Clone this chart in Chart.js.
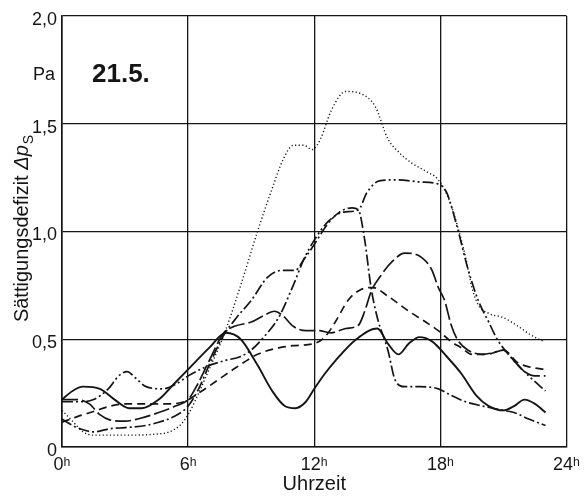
<!DOCTYPE html>
<html><head><meta charset="utf-8">
<script src="https://cdn.jsdelivr.net/npm/chart.js@4.4.1/dist/chart.umd.min.js"></script>
<style>html,body{margin:0;padding:0;background:#fff}#wrap{width:587px;height:497px;position:relative}</style>
</head><body><div id="wrap"><canvas id="c" width="587" height="497"></canvas></div>
<script>
// hour ticks and value ticks
const hourTicks = [0, 6, 12, 18, 24];
const valueTicks = [0, 0.5, 1.0, 1.5, 2.0];

// series as [hour, Pa]
const solidLine = [[0,0.22],[0.5,0.26],[1,0.28],[1.8,0.27],[2.5,0.22],[3.2,0.18],[3.8,0.18],[4.6,0.22],[5.3,0.29],[6,0.36],[7,0.46],[7.8,0.53],[8.5,0.5],[9.3,0.38],[10,0.26],[10.6,0.19],[11.1,0.18],[11.6,0.21],[12,0.27],[12.5,0.34],[13,0.4],[14,0.5],[15,0.55],[15.5,0.48],[16,0.43],[16.5,0.48],[17,0.51],[17.6,0.49],[18.3,0.42],[19,0.34],[19.7,0.24],[20.3,0.19],[21,0.17],[21.5,0.19],[22,0.22],[22.5,0.2],[23,0.16]];
const dottedLine = [[0,0.17],[0.5,0.12],[1,0.07],[1.5,0.055],[3,0.055],[4.5,0.06],[5.1,0.07],[5.6,0.1],[6,0.15],[6.5,0.25],[7,0.36],[7.7,0.52],[8.5,0.75],[9.3,1.0],[10,1.2],[10.5,1.33],[11,1.4],[11.5,1.4],[11.9,1.38],[12.3,1.43],[12.8,1.56],[13.5,1.65],[14.2,1.64],[14.9,1.58],[15.5,1.43],[16,1.37],[16.6,1.32],[17.3,1.28],[17.9,1.24],[18.4,1.15],[18.8,1.03],[19.2,0.88],[19.5,0.74],[19.8,0.66],[20.3,0.62],[21,0.6],[21.7,0.56],[22.3,0.52],[22.9,0.49]];
const dashDotDotLine = [[0,0.21],[0.8,0.21],[1.5,0.22],[2.2,0.27],[2.7,0.33],[3.1,0.35],[3.5,0.32],[4,0.28],[4.8,0.27],[5.4,0.29],[6,0.33],[6.8,0.37],[7.7,0.4],[8.5,0.42],[9,0.45],[9.6,0.51],[10.3,0.6],[11,0.75],[11.5,0.87],[12,0.96],[12.7,1.05],[13.4,1.09],[14.1,1.1],[14.5,1.18],[15.1,1.235],[16,1.24],[17,1.23],[17.9,1.22],[18.3,1.18],[18.8,1.02],[19.3,0.83],[19.8,0.68],[20.3,0.58],[20.7,0.5],[21.5,0.4],[22.2,0.33],[23,0.26]];
const dashDotLine = [[0,0.13],[0.5,0.1],[1,0.08],[1.5,0.07],[2.3,0.085],[3,0.09],[4,0.1],[4.6,0.115],[5.3,0.14],[6,0.19],[6.5,0.27],[7,0.38],[7.7,0.52],[8.3,0.6],[9,0.68],[9.8,0.79],[10.5,0.82],[11.1,0.82],[11.5,0.87],[12,0.94],[12.6,1.03],[13.2,1.09],[13.8,1.11],[14.1,1.1],[14.4,0.96],[14.7,0.74],[15,0.6],[15.5,0.45],[15.85,0.31],[16.3,0.28],[17,0.28],[17.9,0.27],[18.5,0.24],[19.2,0.21],[20,0.19],[20.5,0.18],[21,0.17],[21.5,0.16],[22.2,0.13],[23,0.1]];
const longDashLine = [[0,0.22],[0.7,0.22],[1.3,0.2],[1.8,0.15],[2.3,0.125],[3,0.12],[3.6,0.13],[4.6,0.16],[5.4,0.19],[6,0.22],[6.5,0.3],[7,0.4],[7.7,0.53],[8.2,0.56],[9,0.58],[9.6,0.61],[10.1,0.63],[10.5,0.61],[11,0.56],[11.6,0.54],[12.2,0.54],[12.8,0.53],[13.5,0.55],[14.1,0.565],[14.4,0.63],[14.7,0.72],[15.2,0.8],[15.7,0.86],[16.3,0.9],[17.1,0.88],[17.6,0.82],[17.9,0.74],[18.2,0.68],[18.5,0.57],[18.8,0.5],[19.3,0.45],[20,0.43],[20.6,0.44],[21,0.45],[21.5,0.4],[22,0.35],[22.5,0.33],[23,0.33]];
const mediumDashLine = [[0,0.115],[0.7,0.14],[1.5,0.165],[2.3,0.19],[3,0.2],[4,0.2],[5,0.2],[5.8,0.21],[6.5,0.25],[7.4,0.31],[8.3,0.37],[9.3,0.43],[10.3,0.46],[11,0.47],[12,0.48],[12.5,0.51],[13,0.58],[13.6,0.68],[14.2,0.73],[14.8,0.74],[15.5,0.7],[16.5,0.63],[17.3,0.58],[17.9,0.54],[18.5,0.49],[19,0.46],[19.5,0.43],[20.2,0.43],[21,0.45],[21.7,0.39],[22.3,0.37],[23,0.36]];

const INK = '#151515';
function ds(pts, dash, w) {
  return { data: pts.map(([x, y]) => ({x, y})), borderColor: INK, borderWidth: w || 1.7,
    borderDash: dash, pointRadius: 0, fill: false, cubicInterpolationMode: 'monotone',
    borderCapStyle: 'butt' };
}

const textPlugin = {
  id: 'texts',
  afterDraw(chart) {
    const ctx = chart.ctx;
    ctx.save();
    ctx.fillStyle = INK;
    ctx.textBaseline = 'alphabetic';
    ctx.font = '18px "Liberation Sans", Arial, sans-serif';
    ctx.textAlign = 'left';
    ctx.fillText('Pa', 33, 80);
    ctx.font = 'bold 26px "Liberation Sans", Arial, sans-serif';
    ctx.fillText('21.5.', 92, 82);
    // y-axis title, rotated
    ctx.translate(28, 229);
    ctx.rotate(-Math.PI / 2);
    const f1 = '20px "Liberation Sans", Arial, sans-serif';
    const f2 = 'italic 20px "Liberation Sans", Arial, sans-serif';
    const f3 = '14px "Liberation Sans", Arial, sans-serif';
    const t1 = 'Sättigungsdefizit ', t2 = 'Δp', t3 = 'S';
    ctx.font = f1; const w1 = ctx.measureText(t1).width;
    ctx.font = f2; const w2 = ctx.measureText(t2).width;
    ctx.font = f3; const w3 = ctx.measureText(t3).width;
    let x = -(w1 + w2 + w3) / 2;
    ctx.font = f1; ctx.fillText(t1, x, 0); x += w1;
    ctx.font = f2; ctx.fillText(t2, x, 0); x += w2;
    ctx.font = f3; ctx.fillText(t3, x + 1, 5);
    ctx.restore();
  }
};

new Chart(document.getElementById('c'), {
  type: 'line',
  data: { datasets: [
    ds(dottedLine, [1.2, 2.4], 1.4),
    ds(mediumDashLine, [8, 5]),
    ds(longDashLine, [16, 4]),
    ds(dashDotLine, [11, 3, 2, 3]),
    ds(dashDotDotLine, [11, 3, 2, 3, 2, 3]),
    ds(solidLine, [], 1.9)
  ]},
  options: {
    responsive: false, animation: false, events: [],
    layout: { padding: { top: 16, right: 18, left: 0, bottom: 0 } },
    plugins: { legend: { display: false }, tooltip: { enabled: false } },
    scales: {
      x: {
        type: 'linear', min: 0, max: 24,
        afterBuildTicks: s => { s.ticks = hourTicks.map(v => ({ value: v })); },
        afterFit: s => { s.height = 50; },
        ticks: { callback: v => v + 'ʰ', color: INK, padding: 7, maxRotation: 0, autoSkip: false,
          font: { family: '"Liberation Sans", Arial, sans-serif', size: 18 } },
        grid: { color: INK, lineWidth: 1.3, drawTicks: false },
        border: { color: INK, width: 1.6 },
        title: { display: true, text: 'Uhrzeit', color: INK, padding: { top: 0, bottom: 1 },
          font: { family: '"Liberation Sans", Arial, sans-serif', size: 20 } }
      },
      y: {
        min: 0, max: 2,
        afterBuildTicks: s => { s.ticks = valueTicks.map(v => ({ value: v })); },
        afterFit: s => { s.width = 62; },
        ticks: { callback: v => v === 0 ? '0' : v.toFixed(1).replace('.', ','), color: INK, padding: 5,
          labelOffset: 4, font: { family: '"Liberation Sans", Arial, sans-serif', size: 18 } },
        grid: { color: INK, lineWidth: 1.3, drawTicks: false },
        border: { color: INK, width: 1.6 }
      }
    }
  },
  plugins: [textPlugin]
});
</script></body></html>
